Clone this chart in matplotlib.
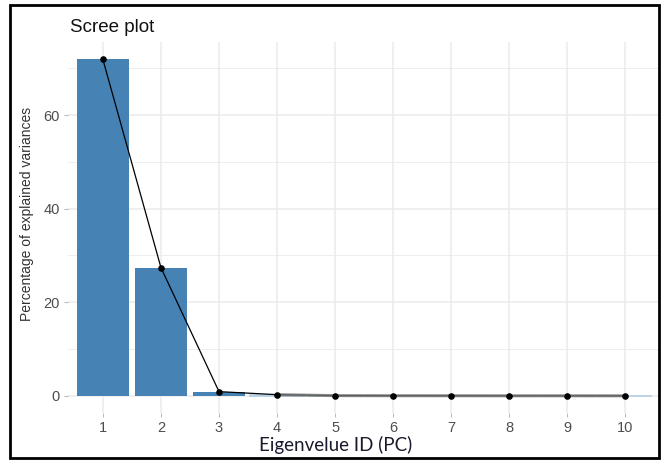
import matplotlib
matplotlib.use("Agg")
import matplotlib.pyplot as plt
import numpy as np
from matplotlib.patches import Rectangle

# scree plot values (percentage of explained variance per PC)
pcs = [1, 2, 3, 4, 5, 6, 7, 8, 9, 10]
pct = [71.9, 27.4, 0.9, 0.25, 0.05, 0.03, 0.02, 0.01, 0.01, 0.005]
yticks = [0, 20, 40, 60]

plt.rcParams['font.family'] = ['Liberation Sans', 'DejaVu Sans']

fig = plt.figure(figsize=(6.67, 4.65), dpi=100)
ax = fig.add_axes([0.102, 0.1125, 0.888, 0.797])

grid_col = "#EBEBEB"
for y in [10, 30, 50, 70]:
    ax.axhline(y, color=grid_col, lw=0.6, zorder=0)
for y in yticks:
    ax.axhline(y, color=grid_col, lw=1.1, zorder=0)
for x in pcs:
    ax.axvline(x, color=grid_col, lw=1.1, zorder=0)

ax.bar(pcs, pct, width=0.9, color="#4682B4", lw=0.0, zorder=2)
# tiny bars show up as thin pale lines along the baseline
ax.bar(pcs[3:], pct[3:], width=0.93, color="#4682B4", edgecolor="#B5CFE4", lw=1.2, zorder=2)
ax.plot(pcs, pct, color="black", lw=0.9, zorder=3)
ax.plot(pcs[3:], pct[3:], color="#777777", lw=2.2, alpha=0.8, zorder=3)
ax.scatter(pcs, pct, color="black", s=14, zorder=4)

ax.set_xlim(0.4, 10.6)
ax.set_ylim(-3.6, 75.6)
ax.set_xticks(pcs)
ax.set_xticklabels([str(p) for p in pcs])
ax.set_yticks(yticks)
for s in ax.spines.values():
    s.set_visible(False)
ax.tick_params(axis="both", length=3, width=0.8, color="#BBBBBB",
               labelcolor="#4D4D4D", labelsize=10.5, pad=3)

ax.set_ylabel("Percentage of explained variances", fontsize=10, color="#333333")
ax.yaxis.set_label_coords(-0.058, 0.535)
ax.set_xlabel("Eigenvelue ID (PC)", fontsize=13.5, color="#1A1A2E", family="Lato")
ax.xaxis.set_label_coords(0.452, -0.064)
fig.text(0.105, 0.94, "Scree plot", fontsize=13.5, color="#111111", va="center")

# black frame around the picture
fig.patches.append(Rectangle((10 / 667, 7 / 465), 649 / 667, 453 / 465,
                             transform=fig.transFigure, fill=False,
                             edgecolor="black", lw=2))

fig.savefig("out.png", dpi=100)
